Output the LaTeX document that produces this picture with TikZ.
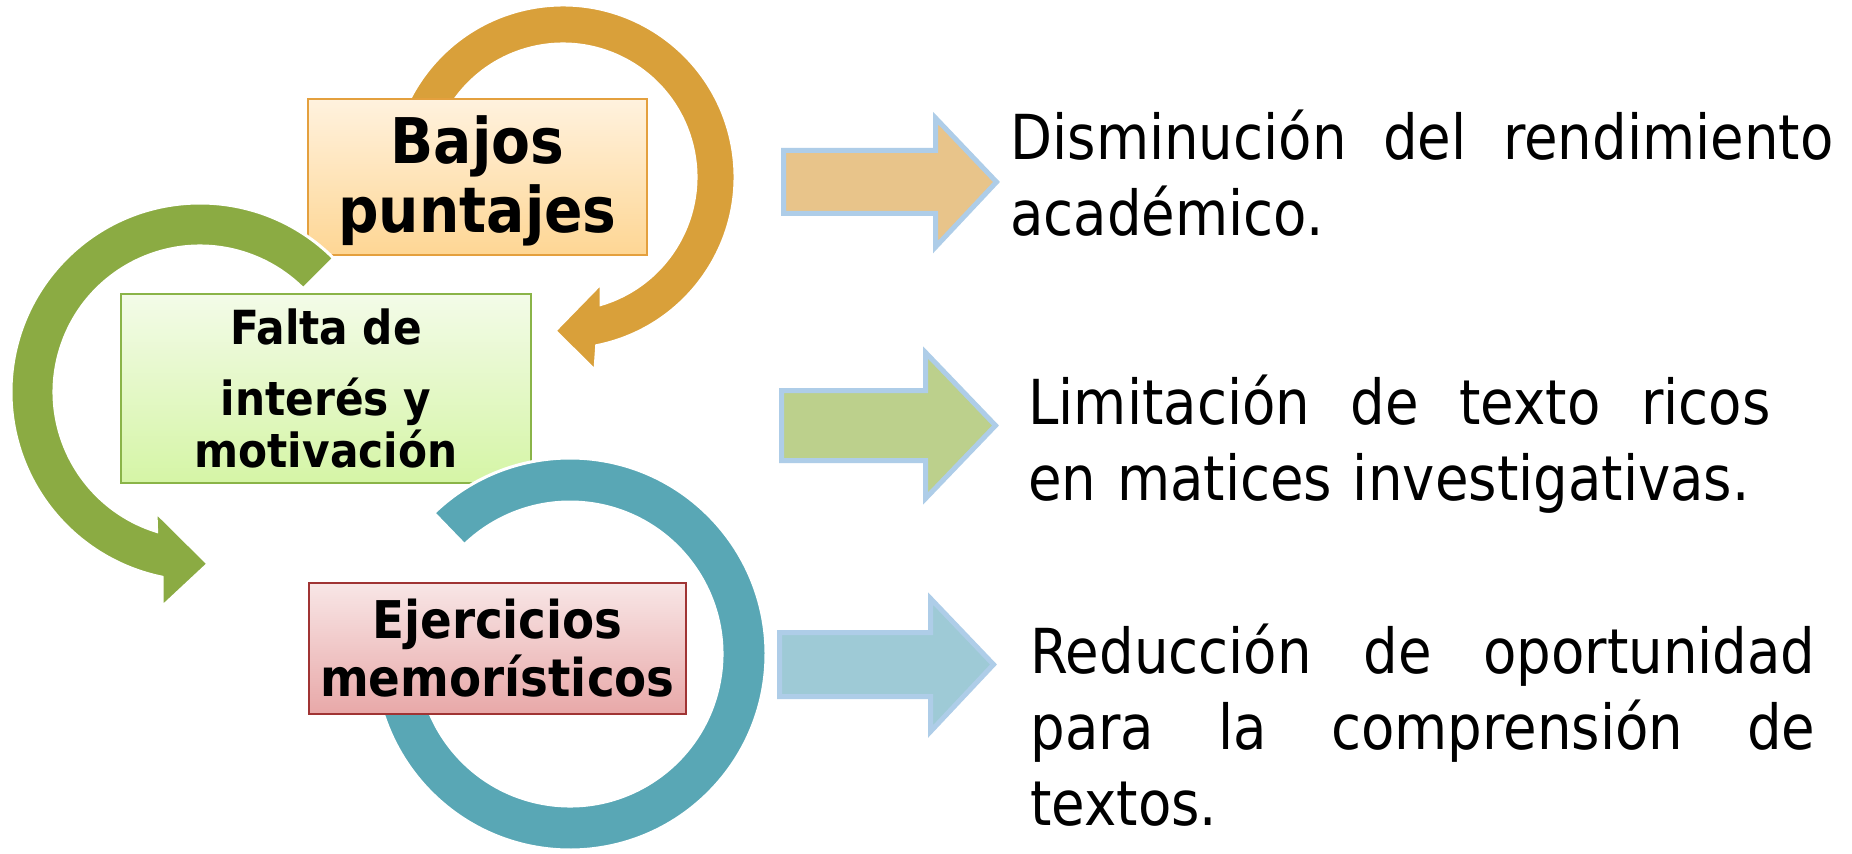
\documentclass[tikz,border=0pt]{standalone}
\usepackage{fontspec}
\setmainfont{DejaVu Sans}
\newfontfamily\boxfont[FakeStretch=0.9]{DejaVu Sans}
\newfontfamily\notefont[FakeStretch=0.88]{DejaVu Sans}
\definecolor{orangearc}{RGB}{217,160,58}
\definecolor{greenarc}{RGB}{139,171,67}
\definecolor{tealarc}{RGB}{89,167,181}
\definecolor{orangetop}{RGB}{255,242,222}
\definecolor{orangebot}{RGB}{254,214,148}
\definecolor{orangeline}{RGB}{228,160,62}
\definecolor{greentop}{RGB}{243,251,232}
\definecolor{greenbot}{RGB}{213,245,166}
\definecolor{greenline}{RGB}{138,180,72}
\definecolor{redtop}{RGB}{248,230,230}
\definecolor{redbot}{RGB}{232,168,168}
\definecolor{redline}{RGB}{160,52,52}
\definecolor{tanarrow}{RGB}{232,196,138}
\definecolor{sagearrow}{RGB}{188,208,140}
\definecolor{bluearrow}{RGB}{158,202,214}
\definecolor{arrowline}{RGB}{174,205,232}
\tikzset{
  ring/.style={fill=#1, draw=white, line width=1.5pt},
  cause/.style={line width=1pt, align=center, inner sep=0pt},
  blockarrow/.style={fill=#1, draw=arrowline, line width=2.5pt},
  effect/.style={anchor=north west, inner sep=0pt, align=left,
    font=\notefont\fontsize{31}{38}\selectfont}
}

\begin{document}
\begin{tikzpicture}[x=0.5pt, y=0.5pt]
  \path[use as bounding box, fill=white] (0,0) rectangle (1852,853);
  % orange ring, behind the first box
  \begin{scope}[shift={(563,676)}]
    \path[ring=orangearc] (190:172) arc[start angle=190, end angle=-78.7, radius=172]
      -- (-80.6:196) -- (-93:154) -- (-70.3:113) -- (-73.3:133)
      arc[start angle=-73.3, end angle=190, radius=133] -- cycle;
  \end{scope}
  \node[cause, draw=orangeline, top color=orangetop, bottom color=orangebot,
    minimum width=169.5pt, minimum height=78pt,
    font=\boxfont\bfseries\fontsize{31.5}{34.5}\selectfont] (bajos) at (477.5,676) {\rule{0pt}{28pt}Bajos\\puntajes};
  % green ring
  \begin{scope}[shift={(200,461)}]
    \path[ring=greenarc] (45:189) arc[start angle=45, end angle=258.4, radius=189]
      -- (260:218) -- (272.7:172) -- (249.9:128) -- (252.7:146)
      arc[start angle=252.7, end angle=45, radius=146] -- cycle;
  \end{scope}
  \node[cause, draw=greenline, top color=greentop, bottom color=greenbot,
    minimum width=205pt, minimum height=94.5pt,
    font=\boxfont\bfseries\fontsize{23.5}{26}\selectfont] (falta) at (326,464.5) {Falta de\\[9.5pt]interés y\\motivación};
  % teal ring, its end hidden by the last box
  \begin{scope}[shift={(570,199)}]
    \path[ring=tealarc] (134:196) arc[start angle=134, end angle=-190, radius=196]
      -- (170:152) arc[start angle=-190, end angle=134, radius=152] -- cycle;
  \end{scope}
  \node[cause, draw=redline, top color=redtop, bottom color=redbot,
    minimum width=188.5pt, minimum height=65.5pt,
    font=\boxfont\bfseries\fontsize{26}{29}\selectfont] (ejercicios) at (497.5,204.5) {Ejercicios\\memorísticos};

  % block arrows
  \path[blockarrow=tanarrow] (783.5,702.5) -- (935.5,702.5) -- (935.5,735) -- (996.5,671)
    -- (935.5,606) -- (935.5,639.5) -- (783.5,639.5) -- cycle;
  \path[blockarrow=sagearrow] (781.5,462.5) -- (925.5,462.5) -- (925.5,500.5) -- (995.5,427.5)
    -- (925.5,354.5) -- (925.5,392.5) -- (781.5,392.5) -- cycle;
  \path[blockarrow=bluearrow] (779.5,220.5) -- (930.5,220.5) -- (930.5,254.5) -- (993.5,188.5)
    -- (930.5,121.5) -- (930.5,156.5) -- (779.5,156.5) -- cycle;

  % effects
  \node[effect, text width=411.5pt] (rendimiento) at (1010,747.2)
    {\strut Disminución\hfill del\hfill rendimiento\\académico.};
  \node[effect, text width=371pt] (limitacion) at (1028,482.2)
    {\strut Limitación\hfill de\hfill texto\hfill ricos\\en matices investigativas.};
  \node[effect, text width=392.5pt] (reduccion) at (1030,233.2)
    {\strut Reducción\hfill de\hfill oportunidad\\para\hfill la\hfill comprensión\hfill de\\textos.};
\end{tikzpicture}
\end{document}
